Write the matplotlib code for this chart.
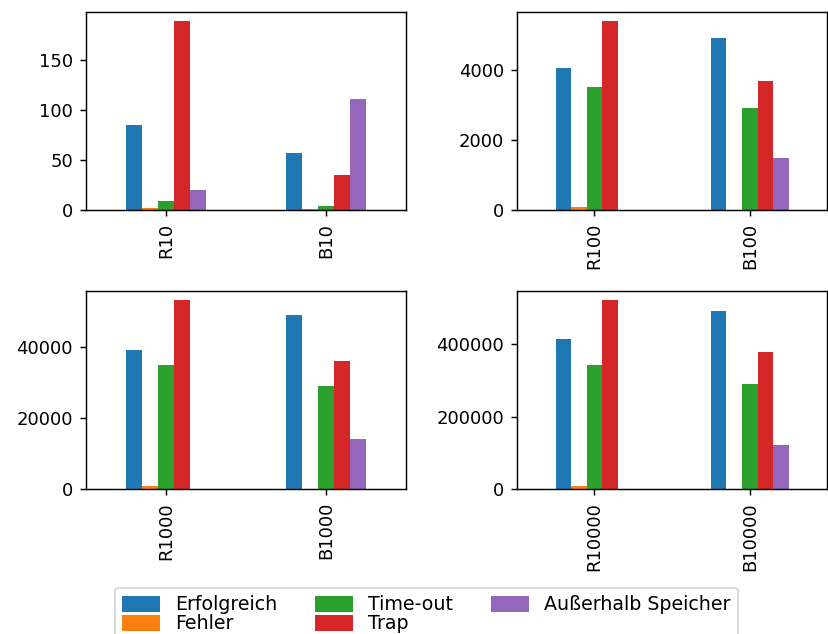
import matplotlib
matplotlib.use('Agg')
import matplotlib.pyplot as plt
import pandas as pd

series = ['Erfolgreich', 'Fehler', 'Time-out', 'Trap', 'Außerhalb Speicher']
groups = [['R10', 'B10'], ['R100', 'B100'], ['R1000', 'B1000'], ['R10000', 'B10000']]

# values per series: [R, B]
erfolgreich = [[85, 57], [4070, 4930], [39240, 49100], [413500, 491000]]
fehler = [[2, 1], [90, 0], [930, 60], [9100, 300]]
timeout = [[9, 4], [3520, 2920], [35000, 29100], [342400, 289700]]
trap = [[189, 35], [5415, 3700], [53300, 36200], [521000, 378000]]
ausserhalb = [[20, 111], [0, 1490], [120, 14200], [1200, 122000]]

fig = plt.figure(figsize=(828/130, 634/130), dpi=130)
W, H = 828.0, 634.0
boxes = [(85.7, 11.7, 406, 210), (516.7, 11.7, 827.5, 210),
         (85.7, 290.7, 406, 489.3), (516.7, 290.7, 827.5, 489.3)]

for i, (l, t, r, b) in enumerate(boxes):
    ax = fig.add_axes([l/W, 1-b/H, (r-l)/W, (b-t)/H])
    df = pd.DataFrame({
        series[0]: erfolgreich[i],
        series[1]: fehler[i],
        series[2]: timeout[i],
        series[3]: trap[i],
        series[4]: ausserhalb[i],
    }, index=groups[i])
    df.plot.bar(ax=ax, legend=False)

handles, labels = ax.get_legend_handles_labels()
fig.legend(handles, labels, loc='upper center', bbox_to_anchor=(426.5/W, 1-587.7/H),
           ncol=3, fontsize=10.5, borderaxespad=0, labelspacing=0.0, handleheight=0.9)

fig.savefig('out.png', dpi=130)
